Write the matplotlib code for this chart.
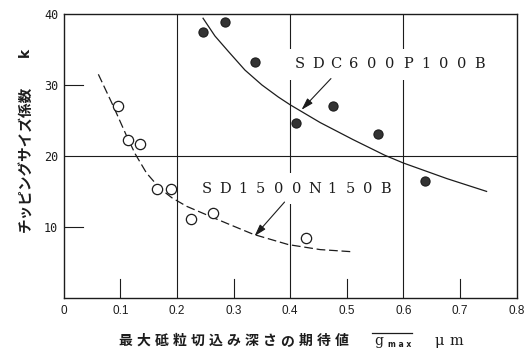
#!/usr/bin/env python3
# -*- coding: utf-8 -*-
"""Chipping size coefficient k against expected maximum grain depth of cut."""

import matplotlib

matplotlib.use("Agg")
import matplotlib.pyplot as plt
from matplotlib.lines import Line2D
from matplotlib.patches import Rectangle


# SDC600P100B measurements (filled circles)
SDC_X = [0.246, 0.285, 0.337, 0.411, 0.475, 0.555, 0.639]
SDC_K = [37.4, 38.9, 33.3, 24.6, 27.0, 23.1, 16.4]

# SD1500N150B measurements (open circles)
SD_X = [0.095, 0.113, 0.134, 0.164, 0.190, 0.225, 0.263, 0.428]
SD_K = [27.0, 22.2, 21.7, 15.3, 15.3, 11.05, 12.0, 8.46]

# hand-drawn trend curves through each series
SDC_CURVE_X = [0.246, 0.267, 0.291, 0.320, 0.350, 0.379, 0.400,
               0.453, 0.511, 0.567, 0.600, 0.677, 0.747]
SDC_CURVE_K = [39.4, 36.9, 34.7, 32.1, 30.0, 28.3, 27.2,
               24.7, 22.3, 20.1, 19.0, 16.8, 15.0]
SD_CURVE_X = [0.061, 0.0875, 0.111, 0.126, 0.146, 0.170, 0.191,
              0.217, 0.264, 0.300, 0.335, 0.397, 0.453, 0.509]
SD_CURVE_K = [31.5, 27.0, 22.8, 20.3, 17.6, 15.4, 14.1,
              12.9, 11.3, 10.1, 8.95, 7.5, 6.8, 6.5]

X_TICKS = [0, 0.1, 0.2, 0.3, 0.4, 0.5, 0.6, 0.7, 0.8]
X_TICK_LABELS = ["0", "0.1", "0.2", "0.3", "0.4", "0.5", "0.6", "0.7", "0.8"]
Y_TICKS = [10, 20, 30, 40]
Y_TICK_LABELS = ["10", "20", "30", "40"]

SDC_NAME = "SDC600P100B"
SD_NAME = "SD1500N150B"
X_LABEL_JP = "最大砥粒切込み深さの期待値"
Y_LABEL_JP = "チッピングサイズ係数"

INK = "#1c1c1c"
JP_FONT = "Noto Sans CJK JP"


def draw_spaced_text(target, x0, y, text, pitch, **kwargs):
    # one glyph per position, like the wide typewriter spacing of the labels
    for i, ch in enumerate(text):
        if ch == " ":
            continue
        target.text(x0 + i * pitch, y, ch, ha="center", va="center", **kwargs)


def draw_series_label(ax, x0, y, text, pitch):
    n = len(text)
    ax.add_patch(
        Rectangle(
            (x0 - 0.6 * pitch, y - 2.2),
            pitch * (n - 1) + 1.2 * pitch,
            4.4,
            facecolor="white",
            edgecolor="none",
            zorder=2,
        )
    )
    draw_spaced_text(ax, x0, y, text, pitch, family="DejaVu Serif",
                     fontsize=10.5, color=INK, zorder=3)


def draw_frame(ax):
    # full grid lines only at 0.2 / 0.4 / 0.6 and k = 20
    for xv in X_TICKS[2:-1:2]:
        ax.axvline(xv, color=INK, lw=0.8, zorder=1)
    ax.axhline(Y_TICKS[1], color=INK, lw=0.8, zorder=1)
    # short stubs for the odd ticks
    for xv in X_TICKS[1::2]:
        ax.plot([xv, xv], [0, 2.7], color=INK, lw=0.8, zorder=1)
    for yv in Y_TICKS[0::2]:
        ax.plot([0, 0.034], [yv, yv], color=INK, lw=0.8, zorder=1)


def main():
    fig = plt.figure(figsize=(5.32, 3.5), dpi=100)
    ax = fig.add_axes([0.120, 0.149, 0.851, 0.811])
    ax.set_xlim(0, 0.8)
    ax.set_ylim(0, 40)

    for spine in ax.spines.values():
        spine.set_linewidth(1.0)
        spine.set_color(INK)

    ax.set_xticks(X_TICKS)
    ax.set_xticklabels(X_TICK_LABELS, family=["Liberation Sans Narrow", "Liberation Sans"],
                       fontsize=8.5, color=INK)
    ax.set_yticks(Y_TICKS)
    ax.set_yticklabels(Y_TICK_LABELS, family="DejaVu Sans Mono", fontsize=8.5,
                       color=INK)
    ax.tick_params(axis="x", length=0, pad=5)
    ax.tick_params(axis="y", length=0, pad=4)

    draw_frame(ax)

    ax.plot(SDC_CURVE_X, SDC_CURVE_K, color=INK, lw=0.9, zorder=4)
    ax.plot(SD_CURVE_X, SD_CURVE_K, color=INK, lw=0.9, dashes=(7, 3), zorder=4)

    ax.plot(SDC_X, SDC_K, "o", ms=6.6, mfc="#333333", mec=INK, mew=0.8,
            zorder=5, clip_on=False)
    ax.plot(SD_X, SD_K, "o", ms=7.4, mfc="white", mec=INK, mew=0.9,
            zorder=5, clip_on=False)

    draw_series_label(ax, 0.417, 32.9, SDC_NAME, 0.0318)
    draw_series_label(ax, 0.253, 15.4, SD_NAME, 0.0316)

    arrow = dict(arrowstyle="-|>,head_length=0.6,head_width=0.18",
                 mutation_scale=12, lw=0.8, color=INK, shrinkA=0, shrinkB=0)
    ax.annotate("", xy=(0.420, 26.5), xytext=(0.472, 30.9), arrowprops=arrow,
                zorder=6)
    ax.annotate("", xy=(0.337, 8.7), xytext=(0.390, 13.5), arrowprops=arrow,
                zorder=6)

    # vertical axis title, read bottom to top
    fig.text(0.047, 0.546, Y_LABEL_JP, rotation=90, ha="center", va="center",
             family=JP_FONT, fontsize=10.5, weight="bold", color=INK)
    fig.text(0.047, 0.851, "k", rotation=90, ha="center", va="center",
             family="DejaVu Sans", fontsize=10, weight="bold", color=INK)

    # horizontal axis title with the overlined g_max symbol
    draw_spaced_text(fig, 0.2359, 0.0257, X_LABEL_JP, 0.0338, family=JP_FONT,
                     fontsize=10, weight="bold", color=INK)
    fig.text(379 / 532, 0.0157, "g", ha="center", va="baseline",
             family="DejaVu Serif", fontsize=10, color=INK)
    fig.text(400 / 532, 0.0086, "m a x", ha="center", va="baseline",
             family="DejaVu Sans", fontsize=5.5, weight="bold", color=INK)
    fig.add_artist(Line2D([371.6 / 532, 412.3 / 532], [1 - 333 / 350] * 2,
                          transform=fig.transFigure, lw=0.9, color=INK))
    fig.text(439 / 532, 0.0157, "μ", ha="center", va="baseline",
             family="DejaVu Serif", fontsize=10.5, color=INK)
    fig.text(456 / 532, 0.0157, "m", ha="center", va="baseline",
             family="DejaVu Serif", fontsize=10.5, color=INK)

    fig.savefig("out.png", dpi=100)
    plt.close(fig)


if __name__ == "__main__":
    main()
